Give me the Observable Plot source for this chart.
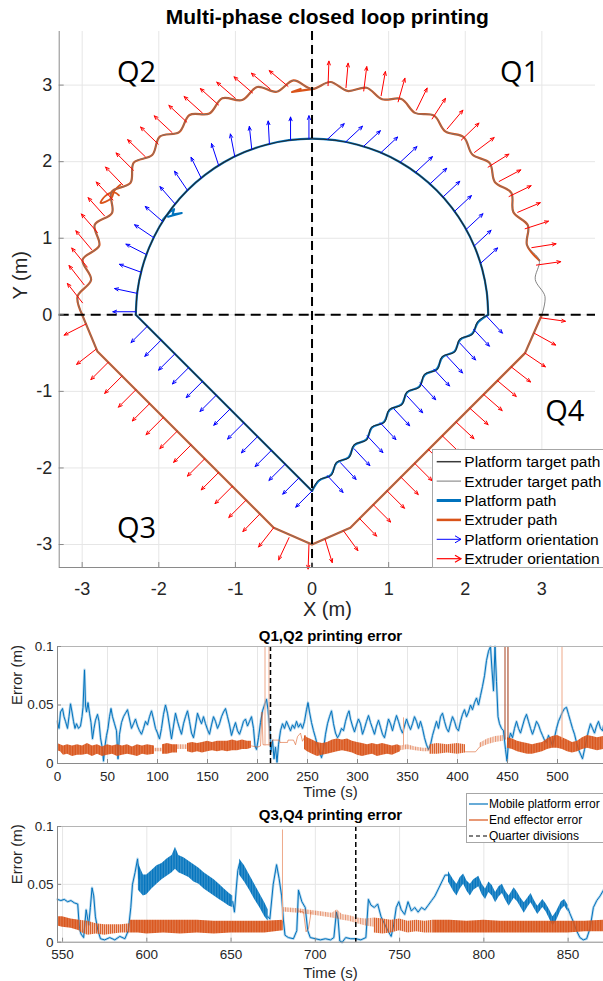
<!DOCTYPE html>
<html><head><meta charset="utf-8">
<script src="https://cdn.jsdelivr.net/npm/d3@7"></script>
<script src="https://cdn.jsdelivr.net/npm/@observablehq/plot@0.6"></script>
<style>
html,body{margin:0;padding:0;background:#fff;overflow:hidden;}
#fig{position:relative;width:603px;height:981px;overflow:hidden;font-family:"Liberation Sans",Arial,sans-serif;background:#fff;}
#fig .panel{position:absolute;left:0;}
.legend{position:absolute;background:#fff;border:1px solid #a6a6a6;box-sizing:border-box;overflow:hidden;}
</style></head><body>
<svg width="0" height="0" style="position:absolute">
  <defs>
    <pattern id="hatchOrange" width="1.6" height="6" patternUnits="userSpaceOnUse">
      <rect x="0" y="0" width="1.6" height="6" fill="#D95319" fill-opacity="0.7"/>
      <rect x="0" y="0" width="1" height="6" fill="#D95319"/>
    </pattern>
    <pattern id="hatchOrangeMid" width="2" height="6" patternUnits="userSpaceOnUse">
      <rect x="0" y="0" width="2" height="6" fill="#D95319" fill-opacity="0.4"/>
      <rect x="0" y="0" width="1" height="6" fill="#D95319" fill-opacity="0.85"/>
    </pattern>
    <pattern id="hatchOrangeLight" width="2.5" height="6" patternUnits="userSpaceOnUse">
      <rect x="0" y="0" width="2.5" height="6" fill="#D95319" fill-opacity="0.18"/>
      <rect x="0" y="0" width="1" height="6" fill="#D95319" fill-opacity="0.55"/>
    </pattern>
    <pattern id="hatchBlue" width="1.6" height="6" patternUnits="userSpaceOnUse">
      <rect x="0" y="0" width="1.6" height="6" fill="#0072BD" fill-opacity="0.7"/>
      <rect x="0" y="0" width="1" height="6" fill="#0072BD"/>
    </pattern>
  </defs>
</svg>
<div id="fig"></div>
<script>
// ---------------- DATA ----------------
const mainTitle = "Multi-phase closed loop printing";
const xTicksMain = [-3,-2,-1,0,1,2,3];
const yTicksMain = [-3,-2,-1,0,1,2,3];
const xDomainMain = [-3.3, 3.7];
const yDomainMain = [-3.3, 3.7];
const quarterLabels = ["Q1","Q2","Q3","Q4"];
const quarterLabelX = [2.71,-2.29,-2.29,3.30];
const quarterLabelY = [3.16,3.16,-2.80,-1.26];

// platform target arc (Q1,Q2) in polar form
const platArcAngle = [0,7.5,15,22.5,30,37.5,45,52.5,60,67.5,75,82.5,90,97.5,105,112.5,120,127.5,135,142.5,150,157.5,165,172.5,180];
const platArcRadius = 2.3;
// Q3 straight segment
const platQ3X = [-2.3, 0];
const platQ3Y = [0, -2.3];
// Q4 wavy segment: fraction along the diagonal and perpendicular offset (m)
const platQ4Start = [0, -2.3];
const platQ4End = [2.3, 0];
const platQ4Frac = [0,0.05,0.1,0.15,0.2,0.25,0.3,0.35,0.4,0.45,0.5,0.55,0.6,0.65,0.7,0.75,0.8,0.85,0.9,0.95,1];
const platQ4TargetOffset = [0,0.04,-0.035,0.04,-0.035,0.04,-0.035,0.04,-0.035,0.04,-0.035,0.04,-0.035,0.04,-0.035,0.04,-0.035,0.04,-0.035,0.035,0];
const platQ4PathOffset   = [0,0.03,-0.025,0.032,-0.027,0.032,-0.027,0.032,-0.027,0.032,-0.027,0.032,-0.027,0.032,-0.027,0.032,-0.027,0.03,-0.027,0.025,0];
const platPathGlitch = [[-1.95,1.24],[-1.86,1.34],[-1.80,1.38],[-1.82,1.31],[-1.70,1.33],[-1.88,1.28]];

// extruder wavy arc (Q1,Q2) polar form
const extArcAngle = [0,4.5,9,13.5,18,22.5,27,31.5,36,40.5,45,49.5,54,58.5,63,67.5,72,76.5,81,85.5,90,94.5,99,103.5,108,112.5,117,121.5,126,130.5,135,139.5,144,148.5,153,157.5,162,166.5,171,175.5,180];
const extArcRadius = [3.00,3.05,2.95,3.05,2.95,3.05,2.95,3.05,2.95,3.05,2.96,3.05,2.96,3.05,2.96,3.05,2.96,3.05,2.96,3.05,2.95,3.07,2.95,3.06,2.95,3.06,2.95,3.06,2.95,3.06,2.95,3.06,2.93,3.07,2.93,3.07,2.92,3.08,2.92,3.07,3.00];
const extPathStartAngle = 13.5;
// extruder Q3,Q4 polyline
const extLowerX = [-3.0,-2.8,-0.5,0,0.5,2.78,3.0];
const extLowerY = [0,-0.48,-2.78,-3.0,-2.78,-0.5,0];
const extPathTopJag = [[0.02,2.95],[-0.12,2.93],[-0.26,2.91],[-0.15,2.95]];
const extPathLoop = [[-2.50,1.70],[-2.58,1.62],[-2.62,1.52],[-2.76,1.46],[-2.70,1.55],[-2.58,1.60],[-2.52,1.56]];

// orientation arrows
const blueArrowLength = 0.3;
const redArrowLength = 0.32;
const extArrowRadius = 3.0;
// [position angle, direction]
const blueQ1 = [[85,43],[79,43],[73,43],[67,43],[60,43],[54,43],[48,43],[42,43],[36,43],[29,43],[23,43],[17,42]];
const blueQ2 = [[91,90],[97,90],[104,93],[110,96],[116,101],[122,108],[129,116],[135,124],[141,131],[148,139],[154,146],[160,153],[166,160],[173,168],[179,180]];
const redQ1 = [[86,88],[81.5,85],[77,83],[72.5,80],[68,74],[63,64],[58.5,57],[54,50],[49.5,44],[45,37],[40,32],[35.5,28],[31,26],[26.5,23],[22,18],[17,9],[12.5,8]];
const redQ2 = [[96,140],[100.5,140],[105,139],[109.5,139],[114,138],[118.5,138],[123,137],[127.5,137],[132,136],[136.5,136],[141,135],[145.5,134],[150,133],[154.5,132],[159,131],[163.5,130],[168,129],[172.5,128],[177,128]];
// [x, y, direction]
const blueQ3 = [[-2.15,-0.15,225],[-1.97,-0.33,225],[-1.79,-0.51,225],[-1.61,-0.69,225],[-1.43,-0.87,225],[-1.25,-1.05,225],[-1.07,-1.23,225],[-0.89,-1.41,225],[-0.71,-1.59,225],[-0.53,-1.77,225],[-0.35,-1.95,225],[-0.17,-2.13,225],[0.0,-2.3,225]];
const blueQ4 = [[0.2,-2.1,313],[0.37,-1.93,313],[0.55,-1.75,313],[0.72,-1.58,313],[0.89,-1.41,313],[1.07,-1.23,313],[1.24,-1.06,313],[1.41,-0.89,313],[1.59,-0.71,313],[1.76,-0.54,313],[1.93,-0.37,313],[2.11,-0.19,313],[2.28,-0.02,313]];
const redQ3 = [[-2.95,-0.12,207],[-2.82,-0.45,218],[-2.66,-0.62,225],[-2.48,-0.80,225],[-2.30,-0.98,225],[-2.12,-1.16,225],[-1.94,-1.34,225],[-1.76,-1.52,225],[-1.58,-1.70,225],[-1.40,-1.88,225],[-1.22,-2.06,225],[-1.04,-2.24,225],[-0.86,-2.42,225],[-0.68,-2.60,226],[-0.50,-2.78,232],[-0.30,-2.91,245],[-0.04,-3.0,268]];
const redQ4 = [[0.17,-2.93,287],[0.41,-2.82,306],[0.62,-2.66,314],[0.80,-2.48,315],[0.98,-2.30,315],[1.16,-2.12,315],[1.34,-1.94,315],[1.52,-1.76,315],[1.70,-1.58,316],[1.88,-1.40,317],[2.06,-1.22,318],[2.24,-1.04,319],[2.42,-0.86,320],[2.60,-0.68,322],[2.78,-0.50,326],[2.90,-0.24,331],[2.99,-0.04,352]];

// ---- error panels ----
const panel1Title = "Q1,Q2 printing error";
const panel2Title = "Q3,Q4 printing error";
const t1Ticks = [0,50,100,150,200,250,300,350,400,450,500];
const t2Ticks = [550,600,650,700,750,800,850];
const t1Domain = [0,546];
const t2Domain = [547,871];
const errTicks = [0,0.05,0.1];
const quarterDiv1 = [213];
const quarterDiv2 = [724];

// Q1,Q2 mobile platform error [t, error]
const err1Blue = [[0,0.036],[1.5,0.030],[3,0.044],[5,0.047],[6.5,0.040],[8,0.036],[10,0.030],[11.5,0.040],[13,0.051],[14.5,0.044],[16,0.036],[17.5,0.030],[19,0.034],[21,0.030],[23,0.032],[24.5,0.040],[25.5,0.048],[27,0.080],[28,0.050],[29,0.044],[30.5,0.052],[32,0.043],[33.5,0.035],[35,0.021],[36.5,0.030],[38,0.037],[40,0.042],[41.5,0.036],[43,0.022],[45,0.012],[46,0.002],[47.5,0.015],[49,0.024],[50.5,0.030],[52,0.040],[53.5,0.047],[55,0.040],[57,0.034],[59,0.028],[60.5,0.004],[62,0.025],[64,0.035],[66,0.040],[68,0.043],[70,0.046],[72,0.038],[74,0.030],[76,0.034],[78,0.038],[80,0.032],[82,0.028],[84,0.025],[86,0.030],[88,0.036],[90,0.033],[92,0.040],[94,0.045],[96,0.038],[98,0.030],[100,0.026],[102,0.021],[104,0.030],[106,0.042],[108,0.050],[110,0.043],[112,0.032],[114,0.021],[116,0.032],[118,0.043],[120,0.036],[122,0.030],[124,0.025],[126,0.034],[128,0.040],[130,0.045],[132,0.036],[134,0.026],[136,0.022],[138,0.032],[140,0.043],[142,0.038],[144,0.034],[146,0.040],[148,0.034],[150,0.029],[152,0.025],[154,0.033],[156,0.040],[158,0.036],[160,0.030],[162,0.034],[164,0.040],[166,0.044],[168,0.047],[170,0.040],[172,0.033],[174,0.024],[176,0.030],[178,0.035],[180,0.028],[182,0.025],[184,0.030],[186,0.036],[188,0.038],[190,0.032],[192,0.036],[194,0.040],[196,0.030],[197.5,0.015],[199,0.012],[201,0.022],[203,0.035],[205,0.045],[207,0.050],[209,0.055],[210.5,0.046],[212,0.030],[213.5,0.010],[215,0.020],[216.5,0.004],[218,0.014],[219.5,0.001],[221,0.016],[223,0.028],[225,0.034],[227,0.030],[229,0.036],[231,0.032],[233,0.028],[235,0.033],[237,0.030],[239,0.036],[241,0.031],[243,0.034],[245,0.030],[247,0.036],[249,0.046],[250.5,0.052],[252,0.044],[254,0.035],[256,0.028],[258,0.022],[260,0.015],[262,0.010],[264,0.005],[266,0.012],[268,0.025],[270,0.034],[272,0.040],[274,0.045],[276,0.034],[278,0.026],[280,0.022],[282,0.025],[284,0.030],[286,0.028],[288,0.036],[290,0.042],[291.5,0.045],[293,0.038],[295,0.032],[297,0.027],[299,0.033],[301,0.038],[303,0.034],[305,0.025],[307,0.030],[309,0.036],[311,0.041],[313,0.035],[315,0.030],[317,0.025],[319,0.032],[321,0.037],[323,0.031],[325,0.025],[327,0.022],[329,0.030],[331,0.038],[333,0.034],[335,0.028],[337,0.035],[339,0.041],[341,0.036],[343,0.030],[345,0.026],[347,0.032],[349,0.038],[351,0.033],[353,0.029],[355,0.034],[357,0.040],[359,0.036],[361,0.030],[363,0.036],[365,0.030],[367,0.022],[369,0.016],[371,0.012],[373,0.016],[375,0.024],[377,0.030],[379,0.036],[381,0.030],[383,0.040],[385,0.043],[387,0.036],[389,0.030],[391,0.027],[393,0.034],[395,0.040],[397,0.036],[399,0.030],[401,0.028],[403,0.036],[405,0.042],[407,0.046],[409,0.040],[411,0.044],[413,0.050],[415,0.046],[417,0.052],[419,0.056],[421,0.050],[423,0.058],[425,0.066],[427,0.075],[429,0.088],[431,0.096],[433,0.100],[434.5,0.080],[436,0.062],[437.5,0.100],[439,0.070],[440.5,0.040],[442,0.034],[444,0.030],[446,0.028],[448,0.012],[449.5,0.002],[451,0.018],[453,0.026],[455,0.022],[457,0.030],[459,0.036],[461,0.030],[463,0.026],[465,0.032],[467,0.038],[469,0.042],[471,0.036],[473,0.030],[475,0.025],[477,0.030],[479,0.036],[481,0.033],[483,0.028],[485,0.024],[487,0.020],[489,0.018],[491,0.024],[493,0.020],[495,0.015],[497,0.022],[499,0.030],[501,0.036],[503,0.040],[505,0.044],[507,0.047],[509,0.048],[511,0.042],[513,0.036],[515,0.030],[517,0.025],[519,0.018],[521,0.012],[523,0.008],[525,0.004],[527,0.012],[529,0.020],[531,0.028],[533,0.034],[535,0.030],[537,0.026],[539,0.032],[541,0.036],[543,0.030],[545,0.028],[546,0.032]];

// Q1,Q2 end effector error bands [t, low, high]
const e1DenseA = [[0,0.011,0.017],[3,0.010,0.016],[6,0.007,0.015],[10,0.008,0.016],[15,0.006,0.015],[20,0.007,0.016],[25,0.007,0.015],[30,0.008,0.017],[35,0.006,0.015],[40,0.008,0.016],[45,0.006,0.014],[50,0.007,0.016],[55,0.008,0.015],[60,0.006,0.016],[65,0.007,0.015],[70,0.008,0.016],[75,0.007,0.014],[80,0.006,0.016],[85,0.008,0.015],[90,0.007,0.016],[97,0.008,0.015]];
const e1DenseB = [[105,0.008,0.016],[110,0.008,0.017],[115,0.009,0.016],[120,0.009,0.016]];
const e1DenseC = [[130,0.010,0.017],[135,0.009,0.018],[140,0.010,0.017],[145,0.009,0.018],[150,0.010,0.019],[155,0.011,0.018],[160,0.010,0.019],[165,0.011,0.019],[170,0.010,0.019],[175,0.011,0.020],[180,0.011,0.019],[185,0.012,0.020],[190,0.012,0.019],[194,0.013,0.019]];
const e1DenseD = [[247,0.012,0.024],[250,0.010,0.022],[255,0.008,0.020],[260,0.006,0.018],[265,0.007,0.017],[270,0.008,0.018],[275,0.009,0.020],[280,0.010,0.021],[285,0.011,0.020],[290,0.010,0.021],[295,0.009,0.019],[300,0.007,0.018],[305,0.006,0.017],[310,0.007,0.016],[315,0.008,0.017],[320,0.006,0.016],[325,0.007,0.017],[330,0.008,0.016],[335,0.007,0.015],[340,0.009,0.016],[343,0.010,0.015]];
const e1MediumF = [[372,0.008,0.016],[380,0.008,0.017],[390,0.009,0.016],[400,0.008,0.017],[408,0.009,0.016]];
const e1DenseH = [[450,0.013,0.022],[455,0.012,0.021],[460,0.010,0.019],[465,0.009,0.018],[470,0.008,0.017],[475,0.008,0.016],[480,0.009,0.017],[485,0.010,0.018],[490,0.012,0.021],[495,0.013,0.023],[500,0.013,0.024],[505,0.012,0.022],[510,0.010,0.020],[515,0.009,0.018],[520,0.010,0.019],[525,0.012,0.022],[530,0.013,0.024],[535,0.012,0.023],[540,0.011,0.022],[546,0.012,0.023]];
const e1LightA = [[97,0.010,0.013],[105,0.010,0.013]];
const e1LightB = [[120,0.012,0.016],[130,0.012,0.016]];
const e1LightE = [[343,0.011,0.015],[350,0.012,0.016],[358,0.011,0.014],[366,0.010,0.013],[372,0.010,0.013]];
const e1LightG = [[422,0.013,0.017],[430,0.016,0.021],[438,0.018,0.023],[446,0.019,0.024]];
const e1ThinA = [[194,0.015],[200,0.014],[203,0.015],[204.5,0.044],[205.5,0.016],[213,0.016],[215,0.020],[222,0.020],[222.5,0.018],[230,0.018],[230.5,0.020],[236,0.020],[238,0.016],[240,0.023],[243,0.026],[245,0.019],[248,0.024]];
const e1ThinB = [[408,0.010],[418,0.010],[422,0.014]];
// spikes [t, from, to, kind]
const e1Spikes = [[207.5,0.015,0.1,"light"],[211.5,0.015,0.1,"light"],[346,0.014,0.039,"light"],[447.5,0.02,0.1,"dark"],[450.5,0.02,0.1,"dark"],[504.5,0.02,0.1,"light"]];

// Q3,Q4 mobile platform error
const err2BlueA = [[547,0.037],[549,0.036],[551,0.037],[553,0.035],[555,0.036],[557,0.034],[559,0.033],[560,0.012],[561,0.007],[562.5,0.004],[564,0.028],[565.5,0.015],[566.5,0.030],[567.5,0.047],[568.5,0.040],[569.5,0.022],[571,0.010],[572.5,0.003],[575,0.002],[578,0.004],[581,0.002],[584,0.005],[587,0.003],[589,0.010],[590.5,0.030],[591.5,0.050],[593,0.060],[594.5,0.072],[595.5,0.055]];
const err2BlueB = [[651,0.035],[652,0.026],[653,0.045],[654,0.062],[655,0.068]];
const err2BlueC = [[672,0.022],[673,0.020],[675,0.050],[677,0.067],[678.5,0.055],[680,0.040],[681,0.020],[682,0.006],[684,0.004],[687,0.003],[689,0.010],[690,0.045],[692,0.035],[694,0.030],[695.5,0.010],[697,0.004],[700,0.003],[703,0.002],[706,0.003],[709,0.002],[711,0.004],[712.5,0.026],[713.5,0.020],[714.5,0.001],[716,0.000],[718,0.004],[721,0.003],[724,0.003],[727,0.002],[730,0.004],[731.5,0.037],[733,0.032],[735,0.030],[737,0.033],[739,0.022],[741,0.016],[743,0.010],[745,0.005],[746.5,0.015],[748,0.030],[749.5,0.035],[751,0.028],[753,0.024],[755,0.035],[757,0.027],[759,0.030],[761,0.026],[763,0.030],[765,0.028],[767,0.032],[769,0.036],[771,0.040],[773,0.046],[775,0.052],[777,0.058],[779,0.058]];
const err2BlueD = [[850,0.029],[851,0.025],[853,0.018],[855,0.010],[857,0.004],[859,0.002],[861,0.003],[863,0.012],[865,0.030],[867,0.036],[869,0.040],[871,0.045]];
const b2BandA = [[595,0.045,0.068],[598,0.040,0.058],[600,0.041,0.058],[603,0.046,0.062],[606,0.050,0.066],[609,0.054,0.068],[612,0.057,0.072],[615,0.060,0.075],[617,0.063,0.082],[619,0.060,0.075],[622,0.058,0.073],[625,0.056,0.070],[628,0.052,0.067],[631,0.050,0.064],[634,0.046,0.060],[637,0.043,0.057],[640,0.040,0.054],[643,0.037,0.050],[646,0.034,0.046],[649,0.031,0.042],[651,0.030,0.040]];
const b2BandB = [[655,0.058,0.072],[658,0.052,0.066],[661,0.045,0.058],[664,0.037,0.050],[667,0.030,0.042],[670,0.022,0.034],[672,0.018,0.028]];
const b2BandC = [[779,0.052,0.061],[782,0.044,0.054],[784,0.040,0.050],[786,0.046,0.056],[788,0.050,0.059],[790,0.044,0.053],[792,0.040,0.050],[794,0.045,0.054],[797,0.048,0.057],[799,0.041,0.050],[801,0.037,0.046],[803,0.043,0.052],[805,0.040,0.049],[807,0.034,0.043],[809,0.039,0.048],[811,0.042,0.050],[813,0.036,0.044],[815,0.031,0.040],[818,0.038,0.047],[820,0.035,0.043],[822,0.030,0.038],[824,0.025,0.034],[826,0.030,0.038],[828,0.034,0.042],[830,0.029,0.036],[832,0.024,0.031],[835,0.030,0.037],[837,0.026,0.033],[839,0.020,0.028],[841,0.014,0.022],[843,0.018,0.026],[846,0.028,0.035],[848,0.031,0.037],[850,0.026,0.032]];

// Q3,Q4 end effector error bands
const e2DenseA = [[547,0.014,0.022],[550,0.013,0.022],[555,0.012,0.020],[560,0.010,0.019]];
const e2MediumB = [[560,0.009,0.019],[565,0.006,0.018],[570,0.007,0.016],[575,0.006,0.015],[580,0.007,0.015],[585,0.008,0.015],[590,0.008,0.016]];
const e2DenseC = [[590,0.008,0.019],[595,0.008,0.019],[600,0.007,0.019],[610,0.008,0.019],[620,0.007,0.019],[630,0.008,0.019],[640,0.007,0.018],[650,0.008,0.018],[660,0.008,0.018],[670,0.008,0.018],[681,0.010,0.019]];
const e2LightD = [[681,0.026,0.030],[690,0.025,0.029],[700,0.023,0.027],[710,0.021,0.025],[713,0.020,0.028],[716,0.019,0.024],[720,0.018,0.023],[725,0.016,0.021],[730,0.014,0.020],[735,0.013,0.021]];
const e2MediumE = [[735,0.008,0.021],[740,0.007,0.020],[745,0.008,0.019],[750,0.010,0.020],[755,0.008,0.018],[760,0.009,0.019],[765,0.008,0.018],[770,0.008,0.019]];
const e2DenseF = [[770,0.008,0.019],[780,0.008,0.019],[790,0.008,0.018],[800,0.008,0.019],[810,0.008,0.018],[820,0.008,0.018],[830,0.008,0.018],[840,0.008,0.018],[850,0.008,0.018],[860,0.009,0.018],[871,0.009,0.019]];
const e2Thin = [[690,0.027],[693,0.026],[694.5,0.009],[696,0.012],[697.5,0.026]];
const e2Spikes = [[680.5,0.018,0.097,"light"]];

const mainLegendLabels = ["Platform target path","Extruder target path","Platform path","Extruder path","Platform orientation","Extruder orientation"];
const errLegendLabels = ["Mobile platform error","End effector error","Quarter divisions"];

// ---------------- STYLE ----------------
const FONT = "'Liberation Sans', Arial, Helvetica, sans-serif";
const C_BLUE = "#0072BD", C_ORANGE = "#D95319", C_ARROW_BLUE = "#0000FF", C_ARROW_RED = "#FF0000";
const C_PT = "#262626", C_ET = "#767676", C_AXIS = "#8a8a8a", C_GRID = "#e6e6e6", C_TEXT = "#262626";
const F_DENSE = "url(#hatchOrange)", F_MED = "url(#hatchOrangeMid)", F_LIGHT = "url(#hatchOrangeLight)", F_BLUE = "url(#hatchBlue)";

// ---------------- BUILD ----------------
const rad = d => d * Math.PI / 180;
const polar = (a, r) => [r * Math.cos(rad(a)), r * Math.sin(rad(a))];
const platArc = platArcAngle.map(a => polar(a, platArcRadius));
const platQ3 = platQ3X.map((x, i) => [x, platQ3Y[i]]);
const q4Line = offs => platQ4Frac.map((s, i) => {
  const bx = platQ4Start[0] + s * (platQ4End[0] - platQ4Start[0]);
  const by = platQ4Start[1] + s * (platQ4End[1] - platQ4Start[1]);
  return [bx - offs[i] / Math.SQRT2, by + offs[i] / Math.SQRT2];
});
const platQ4Target = q4Line(platQ4TargetOffset);
const platQ4Path = q4Line(platQ4PathOffset);
const extArc = extArcAngle.map((a, i) => polar(a, extArcRadius[i]));
const extArcPath = extArcAngle.map((a, i) => ({a, p: extArc[i]})).filter(d => d.a >= extPathStartAngle).map(d => d.p);
const extLower = extLowerX.map((x, i) => [x, extLowerY[i]]);

const arrowAt = (x, y, dir, len) => ({x1: x, y1: y, x2: x + len * Math.cos(rad(dir)), y2: y + len * Math.sin(rad(dir))});
const blueArrows = [
  ...blueQ1.map(([a, d]) => { const [x, y] = polar(a, platArcRadius); return arrowAt(x, y, d, blueArrowLength); }),
  ...blueQ2.map(([a, d]) => { const [x, y] = polar(a, platArcRadius); return arrowAt(x, y, d, blueArrowLength); }),
  ...blueQ3.map(([x, y, d]) => arrowAt(x, y, d, blueArrowLength)),
  ...blueQ4.map(([x, y, d]) => arrowAt(x, y, d, blueArrowLength))
];
const redArrows = [
  ...redQ1.map(([a, d]) => { const [x, y] = polar(a, extArrowRadius); return arrowAt(x, y, d, redArrowLength); }),
  ...redQ2.map(([a, d]) => { const [x, y] = polar(a, extArrowRadius); return arrowAt(x, y, d, redArrowLength); }),
  ...redQ3.map(([x, y, d]) => arrowAt(x, y, d, redArrowLength)),
  ...redQ4.map(([x, y, d]) => arrowAt(x, y, d, redArrowLength))
];
const qLabels = quarterLabels.map((l, i) => ({l, x: quarterLabelX[i], y: quarterLabelY[i]}));

const fig = document.getElementById("fig");
function place(node, top) { const d = document.createElement("div"); d.className = "panel"; d.style.top = top + "px"; d.appendChild(node); fig.appendChild(d); }

// Main plot geometry
const M = {w: 603, h: 620, ml: 58.7, mr: 8, mt: 31, mb: 53};
const mFW = M.w - M.ml - M.mr, mFH = M.h - M.mt - M.mb;
const line = (data, o) => Plot.line(data, {x: d => d[0], y: d => d[1], ...o});

const mainPlot = Plot.plot({
  width: M.w, height: M.h, marginLeft: M.ml, marginRight: M.mr, marginTop: M.mt, marginBottom: M.mb,
  x: {domain: xDomainMain, ticks: xTicksMain, tickSize: 0, tickPadding: 15, tickFormat: d => String(d), label: null},
  y: {domain: yDomainMain, ticks: yTicksMain, tickSize: 0, tickPadding: 7, tickFormat: d => String(d), label: null},
  style: {fontFamily: FONT, fontSize: "18px", color: C_TEXT, background: "transparent", overflow: "visible"},
  marks: [
    Plot.ruleX(xTicksMain, {stroke: C_GRID}),
    Plot.ruleY(yTicksMain, {stroke: C_GRID}),
    // actual paths
    line(platArc, {stroke: C_BLUE, strokeWidth: 2.2, curve: "catmull-rom"}),
    line(platQ3, {stroke: C_BLUE, strokeWidth: 2.2}),
    line(platQ4Path, {stroke: C_BLUE, strokeWidth: 2.2, curve: "catmull-rom"}),
    line(platPathGlitch, {stroke: C_BLUE, strokeWidth: 2}),
    line(extArcPath, {stroke: C_ORANGE, strokeWidth: 2.2, curve: "catmull-rom"}),
    line(extLower, {stroke: C_ORANGE, strokeWidth: 2.2}),
    line(extPathTopJag, {stroke: C_ORANGE, strokeWidth: 2.2}),
    line(extPathLoop, {stroke: C_ORANGE, strokeWidth: 1.8, curve: "catmull-rom"}),
    // target paths
    line(platArc, {stroke: C_PT, strokeWidth: 1.1, curve: "catmull-rom"}),
    line(platQ3, {stroke: C_PT, strokeWidth: 1.1}),
    line(platQ4Target, {stroke: C_PT, strokeWidth: 1, curve: "catmull-rom"}),
    line(extArc, {stroke: C_ET, strokeWidth: 0.9, curve: "catmull-rom"}),
    line(extLower, {stroke: C_ET, strokeWidth: 0.9}),
    // orientation arrows
    Plot.arrow(blueArrows, {x1: "x1", y1: "y1", x2: "x2", y2: "y2", stroke: C_ARROW_BLUE, strokeWidth: 1, headLength: 6, headAngle: 45}),
    Plot.arrow(redArrows, {x1: "x1", y1: "y1", x2: "x2", y2: "y2", stroke: C_ARROW_RED, strokeWidth: 1, headLength: 6, headAngle: 45}),
    // quadrant dashed axes
    Plot.ruleX([0], {stroke: "#000", strokeWidth: 2, strokeDasharray: "9,5"}),
    Plot.ruleY([0], {stroke: "#000", strokeWidth: 2, strokeDasharray: "10,6"}),
    // axis lines and inward ticks
    Plot.ruleX([xDomainMain[0]], {stroke: C_AXIS}),
    Plot.ruleY([yDomainMain[0]], {stroke: C_AXIS}),
    Plot.ruleX(xTicksMain, {stroke: C_AXIS, insetTop: mFH - 5}),
    Plot.ruleY(yTicksMain, {stroke: C_AXIS, insetRight: mFW - 5}),
    // labels
    Plot.text(qLabels, {x: "x", y: "y", text: "l", fontFamily: "'Open Sans', sans-serif", fontSize: 29, fill: "#000", lineAnchor: "middle"}),
    Plot.text([mainTitle], {text: d => d, frameAnchor: "top", dy: -14, fontWeight: "bold", fontSize: 21, fill: "#000", lineAnchor: "middle"}),
    Plot.text(["X (m)"], {text: d => d, frameAnchor: "bottom", dy: 42, fontSize: 20, fill: C_TEXT, lineAnchor: "middle"}),
    Plot.text(["Y (m)"], {text: d => d, frameAnchor: "left", dx: -38.7, rotate: -90, fontSize: 20, fill: C_TEXT, lineAnchor: "middle"})
  ]
});
place(mainPlot, 0);

function band(data, fill) {
  return Plot.areaY(data, {x: d => d[0], y1: d => d[1], y2: d => d[2], fill});
}
function spikes(data) {
  return Plot.ruleX(data, {x: d => d[0], y1: d => d[1], y2: d => d[2], stroke: d => d[3] === "dark" ? "#a8401c" : "#eea98a", strokeWidth: 1});
}

function errPanel(cfg) {
  const fw = cfg.w - cfg.ml - cfg.mr, fh = cfg.h - cfg.mt - cfg.mb;
  return Plot.plot({
    width: cfg.w, height: cfg.h, marginLeft: cfg.ml, marginRight: cfg.mr, marginTop: cfg.mt, marginBottom: cfg.mb,
    x: {domain: cfg.xDomain, ticks: cfg.xTicks, tickSize: 0, tickPadding: cfg.xPad, tickFormat: d => String(d), label: null},
    y: {domain: [0, 0.1], ticks: errTicks, tickSize: 0, tickPadding: 4, tickFormat: d => String(d), label: null},
    style: {fontFamily: FONT, fontSize: "13.5px", color: C_TEXT, background: "transparent", overflow: "visible"},
    marks: [
      Plot.ruleX(cfg.xTicks, {stroke: C_GRID}),
      Plot.ruleY([0.05], {stroke: C_GRID}),
      ...cfg.marks,
      Plot.ruleX(cfg.div, {stroke: "#000", strokeWidth: 1.5, strokeDasharray: "5,3"}),
      Plot.ruleX([cfg.xDomain[0]], {stroke: C_AXIS}),
      Plot.ruleY([0], {stroke: C_AXIS}),
      Plot.ruleY([0.1], {stroke: "#b5b5b5"}),
      Plot.ruleX(cfg.xTicks, {stroke: C_AXIS, insetTop: fh - 4}),
      Plot.ruleY(errTicks, {stroke: C_AXIS, insetRight: fw - 4}),
      Plot.text([cfg.title], {text: d => d, frameAnchor: "top", dy: cfg.titleDy, fontWeight: "bold", fontSize: 15, fill: "#000", lineAnchor: "middle"}),
      Plot.text(["Time (s)"], {text: d => d, frameAnchor: "bottom", dy: cfg.xLabDy, fontSize: 15, fill: C_TEXT, lineAnchor: "middle"}),
      Plot.text(["Error (m)"], {text: d => d, frameAnchor: "left", dx: -40.7, rotate: -90, fontSize: 15, fill: C_TEXT, lineAnchor: "middle"})
    ]
  });
}
const blueFuzz = (data) => [
  line(data, {stroke: C_BLUE, strokeOpacity: 0.28, strokeWidth: 2.6}),
  line(data, {stroke: C_BLUE, strokeWidth: 1})
];

const p1 = errPanel({
  w: 603, h: 180, ml: 57, mr: 0, mt: 26, mb: 37, xDomain: t1Domain, xTicks: t1Ticks, xPad: 8, div: quarterDiv1,
  title: panel1Title, titleDy: -10, xLabDy: 29,
  marks: [
    ...blueFuzz(err1Blue),
    band(e1DenseA, F_DENSE), band(e1DenseB, F_DENSE), band(e1DenseC, F_DENSE),
    band(e1DenseD, F_DENSE), band(e1DenseH, F_DENSE), band(e1MediumF, F_MED),
    band(e1LightA, F_LIGHT), band(e1LightB, F_LIGHT), band(e1LightE, F_LIGHT), band(e1LightG, F_LIGHT),
    line(e1ThinA, {stroke: C_ORANGE, strokeOpacity: 0.55, strokeWidth: 1}),
    line(e1ThinB, {stroke: C_ORANGE, strokeOpacity: 0.55, strokeWidth: 1}),
    spikes(e1Spikes)
  ]
});
place(p1, 620);

const p2 = errPanel({
  w: 603, h: 181, ml: 57, mr: 0, mt: 26, mb: 39.3, xDomain: t2Domain, xTicks: t2Ticks, xPad: 7.5, div: quarterDiv2,
  title: panel2Title, titleDy: -11, xLabDy: 31,
  marks: [
    ...blueFuzz(err2BlueA), ...blueFuzz(err2BlueB), ...blueFuzz(err2BlueC), ...blueFuzz(err2BlueD),
    band(b2BandA, F_BLUE), band(b2BandB, F_BLUE), band(b2BandC, F_BLUE),
    band(e2DenseA, F_DENSE), band(e2MediumB, F_MED), band(e2DenseC, F_DENSE),
    band(e2LightD, F_LIGHT), band(e2MediumE, F_MED), band(e2DenseF, F_DENSE),
    line(e2Thin, {stroke: C_ORANGE, strokeOpacity: 0.55, strokeWidth: 1}),
    spikes(e2Spikes)
  ]
});
place(p2, 800);

// ---------------- LEGENDS (overlay) ----------------
function legend(left, top, width, height, rows, fontSize, sx1, sx2, tx) {
  const div = document.createElement("div");
  div.className = "legend";
  Object.assign(div.style, {left: left + "px", top: top + "px", width: width + "px", height: height + "px"});
  let s = `<svg width="${width}" height="${height}" style="position:absolute;left:0;top:0;font-family:${FONT};font-size:${fontSize}px">`;
  rows.forEach(r => {
    const y = r.y;
    if (r.kind === "arrow") {
      s += `<line x1="${sx1}" y1="${y}" x2="${sx2}" y2="${y}" stroke="${r.stroke}" stroke-width="${r.width}"/>`;
      s += `<polyline points="${sx2 - 6},${y - 3.5} ${sx2},${y} ${sx2 - 6},${y + 3.5}" fill="none" stroke="${r.stroke}" stroke-width="${r.width}"/>`;
    } else {
      s += `<line x1="${sx1}" y1="${y}" x2="${sx2}" y2="${y}" stroke="${r.stroke}" stroke-width="${r.width}"${r.dash ? ` stroke-dasharray="${r.dash}"` : ""}/>`;
    }
    s += `<text x="${tx}" y="${y}" dy="0.35em" fill="#000">${r.label}</text>`;
  });
  s += "</svg>";
  div.innerHTML = s;
  fig.appendChild(div);
}
const mainRowStyles = [
  {stroke: "#3a3a3a", width: 1.5}, {stroke: "#7a7a7a", width: 1}, {stroke: C_BLUE, width: 3},
  {stroke: C_ORANGE, width: 2.5}, {stroke: C_ARROW_BLUE, width: 1, kind: "arrow"}, {stroke: C_ARROW_RED, width: 1.2, kind: "arrow"}
];
legend(432, 449, 180, 118.5, mainLegendLabels.map((label, i) => ({label, y: 11.7 + i * 19.4, ...mainRowStyles[i]})), 15.5, 3.7, 28, 31.3);
const errRowStyles = [{stroke: C_BLUE, width: 1.2}, {stroke: C_ORANGE, width: 1.2}, {stroke: "#000", width: 1.2, dash: "4,3"}];
legend(466, 793, 150, 50, errLegendLabels.map((label, i) => ({label, y: 10 + i * 16, ...errRowStyles[i]})), 12, 2, 21, 22);
</script></body></html>
